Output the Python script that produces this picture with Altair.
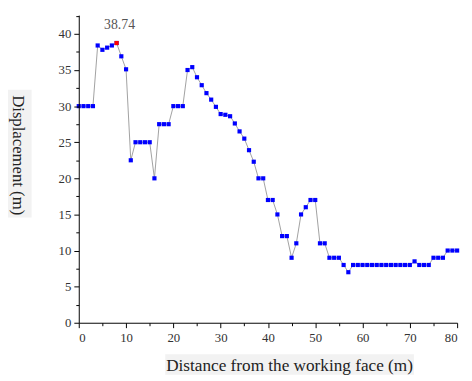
import altair as alt
import pandas as pd

distance = list(range(0, 81))
displacement = [
    30, 30, 30, 30, 38.4, 37.8, 38.1, 38.4, 38.74, 36.9,
    35.1, 22.5, 25, 25, 25, 25, 20, 27.5, 27.5, 27.5,
    30, 30, 30, 35, 35.4, 34, 32.9, 31.8, 30.9, 29.9,
    28.9, 28.8, 28.6, 27.6, 26.5, 25.5, 23.9, 22.3, 20, 20,
    17, 17, 15, 12, 12, 9, 11, 15, 16, 17,
    17, 11, 11, 9, 9, 9, 8, 7, 8, 8,
    8, 8, 8, 8, 8, 8, 8, 8, 8, 8,
    8, 8.5, 8, 8, 8, 9, 9, 9, 10, 10, 10,
]
peak_x = [8]
peak_y = [38.74]
peak_label = ["38.74"]

x_ticks = [i * 5 for i in range(17)]
y_ticks = [i * 2.5 for i in range(18)]

df = pd.DataFrame({"d": distance, "v": displacement})
peak = pd.DataFrame({"d": peak_x, "v": peak_y, "t": peak_label})
bg = pd.DataFrame({"k": [0]})

font = "Liberation Serif, Times New Roman, serif"

xs = alt.Scale(domain=[0, 80], nice=False, zero=False)
ys = alt.Scale(domain=[0, 42.6], nice=False, zero=False)

x_axis = alt.Axis(
    values=x_ticks,
    labelExpr="datum.value % 10 === 0 ? datum.label : ''",
    tickSize={"condition": {"test": "datum.value % 10 === 0", "value": 5}, "value": 3},
    grid=False,
    zindex=2,
    domainColor="black",
    tickColor="black",
    labelFont=font,
    labelFontSize=13,
    labelColor="#333333",
    labelPadding=4,
    title="Distance from the working face (m)",
    titleFont=font,
    titleFontSize=17.5,
    titleFontWeight="normal",
    titleColor="#222222",
    titleX=214,
    titleY=44,
    titleAlign="center",
    titleBaseline="middle",
)
y_axis = alt.Axis(
    values=y_ticks,
    labelExpr="datum.value % 5 === 0 ? datum.label : ''",
    tickSize={"condition": {"test": "datum.value % 5 === 0", "value": 5}, "value": 3},
    grid=False,
    zindex=2,
    domainColor="black",
    tickColor="black",
    labelFont=font,
    labelFontSize=13,
    labelColor="#333333",
    labelPadding=3,
    title="Displacement (m)",
    titleFont=font,
    titleFontSize=17,
    titleFontWeight="normal",
    titleColor="#222222",
    titleAngle=90,
    titleX=-62,
    titleY=142,
    titleAlign="center",
    titleBaseline="middle",
)

X = alt.X("d:Q", scale=xs, axis=x_axis)
Y = alt.Y("v:Q", scale=ys, axis=y_axis)

base = alt.Chart(df)

line = base.mark_line(color="#a0a0a0", strokeWidth=1).encode(x=X, y=Y)
pts = base.mark_square(color="#0000ff", size=18, opacity=1).encode(x=X, y=Y)
red = alt.Chart(peak).mark_square(color="#ff0000", size=18, opacity=1).encode(x=X, y=Y)
label = alt.Chart(peak).mark_text(
    font=font, fontSize=14, color="#555555", dx=3, dy=-11, baseline="bottom"
).encode(x=X, y=Y, text="t:N")

xbg = alt.Chart(bg).mark_rect(color="#f2f2f2").encode(
    x=alt.value(88), x2=alt.value(341), y=alt.value(345), y2=alt.value(366)
)
ybg = alt.Chart(bg).mark_rect(color="#f2f2f2").encode(
    x=alt.value(-73), x2=alt.value(-48), y=alt.value(76), y2=alt.value(206)
)

chart = alt.layer(xbg, ybg, line, pts, red, label).properties(
    width=385,
    height=313,
    autosize=alt.AutoSizeParams(type="none"),
    padding={"left": 72, "top": 4, "right": 7, "bottom": 56},
).configure(
    background="white", font=font
).configure_axis(
    labelFont=font, titleFont=font
).configure_view(stroke=None)

chart.save("out.html", embed_options={"renderer": "svg", "actions": False})
